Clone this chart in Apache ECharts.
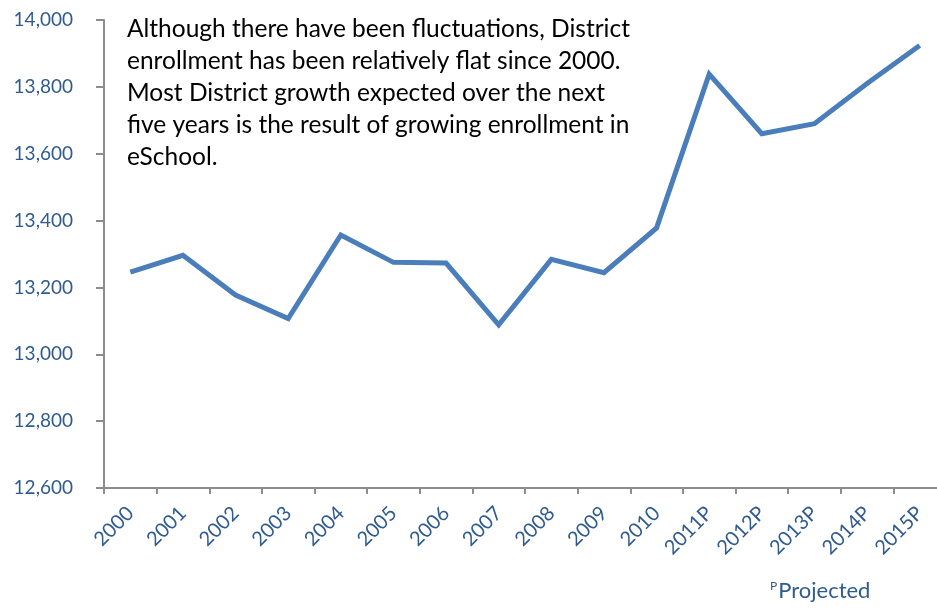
<!DOCTYPE html>
<html>
<head>
<meta charset="utf-8">
<script src="https://cdn.jsdelivr.net/npm/echarts@6/dist/echarts.min.js"></script>
<style>
  html, body { margin: 0; padding: 0; background: #fff; }
  #chart { width: 937px; height: 610px; }
</style>
</head>
<body>
<div id="chart"></div>
<script>
// School years; "P" marks projected enrollment
const years = ['2000', '2001', '2002', '2003', '2004', '2005', '2006', '2007',
  '2008', '2009', '2010', '2011P', '2012P', '2013P', '2014P', '2015P'];
// District enrollment (students)
const enrollment = [13246, 13296, 13177, 13107, 13357, 13275, 13273, 13088,
  13284, 13244, 13378, 13838, 13660, 13690, 13810, 13924];
const yMin = 12600;
const yMax = 14000;
const yStep = 200;

const note = [
  'Although there have been fluctuations, District',
  'enrollment has been relatively flat since 2000.',
  'Most District growth expected over the next',
  'five years is the result of growing enrollment in',
  'eSchool.'
];

const labelBlue = '#2f5b90';
const axisGrey = '#8c8c8c';
const font = 'Lato, "Open Sans", sans-serif';

const chart = echarts.init(document.getElementById('chart'), null, { renderer: 'canvas' });
chart.setOption({
  animation: false,
  backgroundColor: '#ffffff',
  grid: {
    left: 104, top: 20, width: 842, bottom: 122,
    containLabel: false, outerBoundsMode: 'none'
  },
  xAxis: {
    type: 'category',
    data: years,
    boundaryGap: true,
    axisLine: { lineStyle: { color: axisGrey, width: 2 } },
    axisTick: { show: true, length: 6, lineStyle: { color: axisGrey, width: 2 } },
    axisLabel: {
      rotate: 45, margin: 22, color: labelBlue, fontSize: 20, fontFamily: font, interval: 0
    },
    splitLine: { show: false }
  },
  yAxis: {
    type: 'value',
    min: yMin, max: yMax, interval: yStep,
    axisLine: { show: true, lineStyle: { color: axisGrey, width: 2 } },
    axisTick: { show: true, length: 8, lineStyle: { color: axisGrey, width: 2 } },
    axisLabel: {
      margin: 31, color: labelBlue, fontSize: 19, fontFamily: font,
      formatter: v => v.toLocaleString('en-US')
    },
    splitLine: { show: false }
  },
  series: [{
    type: 'line',
    data: enrollment,
    showSymbol: false,
    symbol: 'none',
    lineStyle: { color: '#4a7ebb', width: 5, join: 'miter' },
    itemStyle: { color: '#4a7ebb' }
  }],
  graphic: [
    {
      type: 'text', left: 127, top: 13,
      style: {
        text: note.join('\n'), fill: '#000', fontSize: 24.5, lineHeight: 32, fontFamily: font
      }
    },
    {
      type: 'text', left: 770, top: 580,
      style: {
        text: '{s|P}{m|Projected}',
        rich: {
          s: { fontSize: 12, fill: labelBlue, fontFamily: font, verticalAlign: 'top', padding: [0, 1, 10, 0] },
          m: { fontSize: 22, fill: labelBlue, fontFamily: font }
        }
      }
    }
  ]
});
</script>
</body>
</html>
